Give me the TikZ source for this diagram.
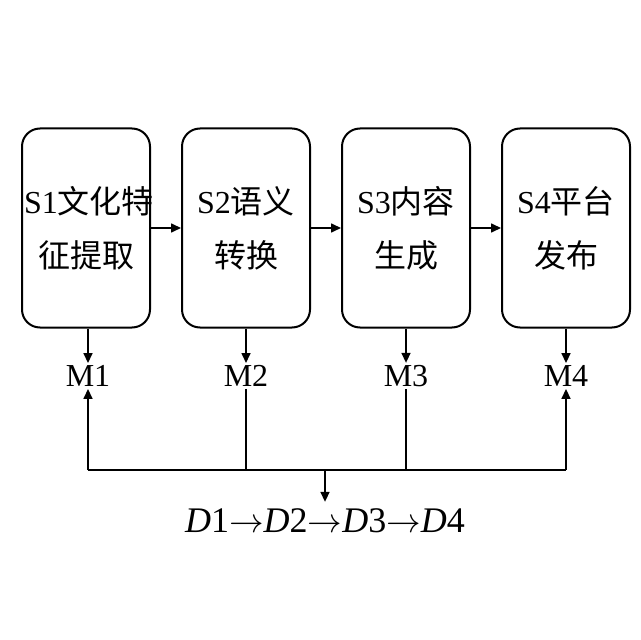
\documentclass[tikz,border=0pt]{standalone}
\usepackage{fontspec}
\setmainfont{Liberation Serif}
\newfontfamily\cjk{Noto Sans CJK SC}
\usetikzlibrary{positioning,arrows.meta}
\tikzset{
  stage/.style={draw, line width=1pt, rounded corners=9pt, inner xsep=1pt, text width=62pt, minimum height=99.5pt, align=center, font=\fontsize{16}{27}\selectfont},
  mlabel/.style={inner sep=1pt, font=\fontsize{16}{18}\selectfont},
  flow/.style={-{Triangle[length=5pt,width=4.5pt]}, line width=0.8pt},
  link/.style={line width=0.8pt}
}
\begin{document}
\begin{tikzpicture}[x=0.5pt,y=-0.5pt]
        \useasboundingbox (0,0) rectangle (640,640);
        % Stages
        \node[stage] (S1) at (86,228) {S1{\cjk 文化特}\\{\cjk 征提取}};
        \node[stage] (S2) at (246,228) {S2{\cjk 语义}\\{\cjk 转换}};
        \node[stage] (S3) at (406,228) {S3{\cjk 内容}\\{\cjk 生成}};
        \node[stage] (S4) at (566,228) {S4{\cjk 平台}\\{\cjk 发布}};

        \draw[flow] (S1) -- (S2);
        \draw[flow] (S2) -- (S3);
        \draw[flow] (S3) -- (S4);

        % Outputs
        \node[mlabel] (M1) at (88,376) {M1};
        \node[mlabel] (M2) at (246,376) {M2};
        \node[mlabel] (M3) at (406,376) {M3};
        \node[mlabel] (M4) at (566,376) {M4};

        \draw[flow] (S1.south -| M1) -- (M1);
        \draw[flow] (S2.south -| M2) -- (M2);
        \draw[flow] (S3.south -| M3) -- (M3);
        \draw[flow] (S4.south -| M4) -- (M4);

        % Feedback bus
        \coordinate (B1) at (88,470);
        \coordinate (B4) at (566,470);
        \coordinate (BC) at (325,470);
        \node[font=\fontsize{18}{20}\selectfont] (D) at (325,521) {\textit{D}1$\rightarrow$\textit{D}2$\rightarrow$\textit{D}3$\rightarrow$\textit{D}4};
        \draw[link] (B1) -- (B4);
        \draw[flow] (B1) -- (M1);
        \draw[flow] (B4) -- (M4);
        \draw[link] (M2) -- (M2 |- BC);
        \draw[link] (M3) -- (M3 |- BC);
        \draw[flow] (BC) -- (D);
\end{tikzpicture}
\end{document}
